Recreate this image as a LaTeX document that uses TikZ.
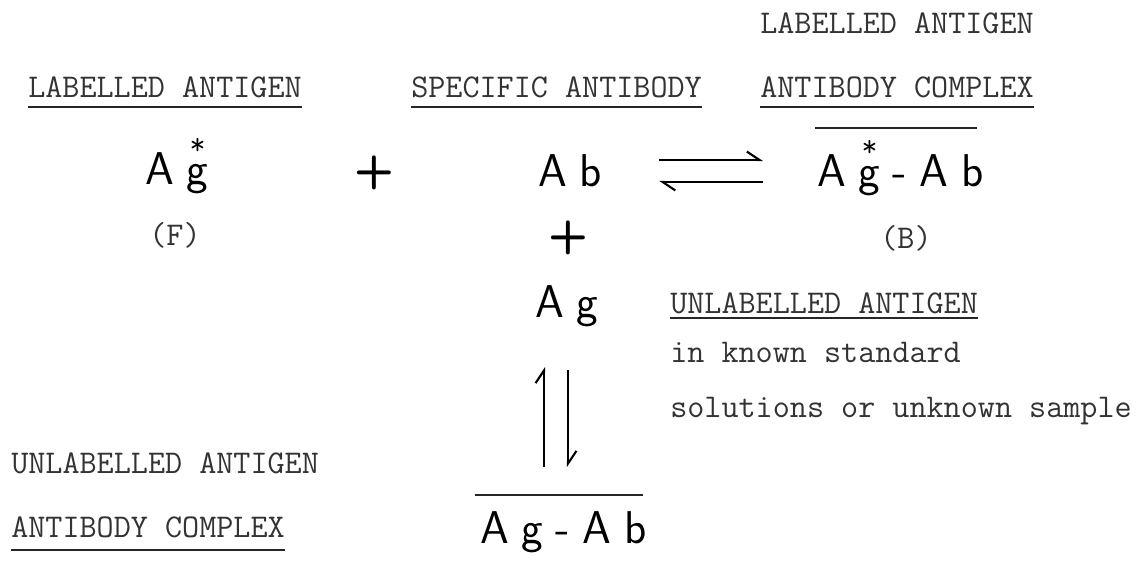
\documentclass[tikz,border=0pt]{standalone}
\usepackage{fontspec}
\usepackage{tikz}
\usetikzlibrary{arrows.meta, positioning, calc}

% g with the label star above it, and the wide letter gap
\newcommand{\starg}{\ooalign{g\cr\hidewidth\raisebox{21pt}{\ttfamily\fontsize{22}{22}\selectfont *}\hidewidth\cr}}
\newcommand{\gp}{\hspace{9pt}}

\begin{document}
\begin{tikzpicture}[x=0.025cm, y=-0.025cm,
    typed/.style={font=\ttfamily\fontsize{23.6}{27}\selectfont, text=black!80,
                  inner sep=0pt, anchor=base west},
    big/.style={font=\sffamily\fontsize{32.7}{38}\selectfont,
                inner sep=0pt, anchor=base west},
    plus/.style={font=\sffamily\bfseries\fontsize{33}{33}\selectfont, inner sep=0pt},
    rule/.style={line width=1.3pt, black!85},
    harp/.style={line width=1.5pt, -{Straight Barb[left, length=9pt, width=12pt]}}]
  \useasboundingbox (0,0) rectangle (1141,560);

  % headings
  \node[typed] (toplab) at (760,33) {LABELLED ANTIGEN};
  \node[typed] (labag) at (28,97) {LABELLED ANTIGEN};
  \node[typed] (specab) at (411,97) {SPECIFIC ANTIBODY};
  \node[typed] (cplx) at (760,97) {ANTIBODY COMPLEX};
  \foreach \n in {labag,specab,cplx} {
    \draw[rule] ($(\n.base west)+(0,10)$) -- ($(\n.base east)+(0,10)$);
  }

  % top reaction
  \node[big] (agf) at (145,184) {A\gp\starg};
  \node[plus] (plusa) at (374,173) {+};
  \node[big] (ab) at (538,186) {A\gp b};
  \node[big] (agab) at (817,186) {A\gp\starg\gp-\gp A\gp b};
  \draw[rule] ($(agab.base west)+(-2,-58)$) -- ($(agab.base west)+(160,-58)$);
  \draw[harp] ($(ab.base east)+(57,-26)$) -- ($(agab.base west)+(-54,-26)$);
  \draw[harp] ($(agab.base west)+(-54,-4)$) -- ($(ab.base east)+(57,-4)$);
  \node[typed, anchor=center] (free) at (175,235) {(F)};
  \node[typed, anchor=center] (bound) at (906,238) {(B)};

  % unlabelled antigen
  \node[plus] (plusb) at (568,238) {+};
  \node[big] (ag) at (535,317) {A\gp g};
  \node[typed] (unlab) at (670,313) {UNLABELLED ANTIGEN};
  \draw[rule] ($(unlab.base west)+(0,5)$) -- ($(unlab.base east)+(0,5)$);
  \node[typed] (known) at (670,362) {in known standard};
  \node[typed] (sol) at (670,417) {solutions or unknown sample};

  % bottom complex
  \node[typed] (unlabb) at (11,473) {UNLABELLED ANTIGEN};
  \node[typed] (cplxb) at (11,537) {ANTIBODY COMPLEX};
  \draw[rule] ($(cplxb.base west)+(0,13)$) -- ($(cplxb.base east)+(0,13)$);
  \node[big] (agabb) at (480,543) {A\gp g\gp-\gp A\gp b};
  \draw[rule] ($(agabb.base west)+(-5,-48)$) -- ($(agabb.base west)+(163,-48)$);
  \draw[harp] ($(ag.base west)+(9,150)$) -- ($(ag.base west)+(9,50)$);
  \draw[harp] ($(ag.base west)+(33,53)$) -- ($(ag.base west)+(33,150)$);
\end{tikzpicture}
\end{document}
